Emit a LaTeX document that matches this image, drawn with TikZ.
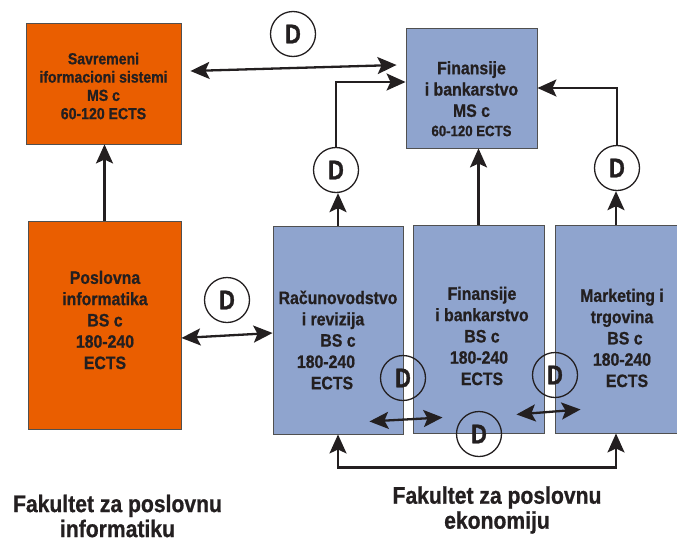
\documentclass[tikz,border=0pt]{standalone}
\usepackage{fontspec}
\setmainfont{Liberation Sans}
\newfontfamily\hv{Liberation Sans Bold}[FakeStretch=0.88,FakeBold=0.8]
\newfontfamily\hvd{Liberation Sans Bold}[FakeStretch=0.8,FakeBold=1.2]
\usetikzlibrary{arrows.meta,calc}
\definecolor{orangebox}{RGB}{234,94,0}
\definecolor{bluebox}{RGB}{143,164,206}
\definecolor{inkc}{RGB}{35,31,32}
\definecolor{edgec}{RGB}{80,80,80}
\tikzset{
  boxo/.style={draw=edgec,line width=0.9pt,fill=orangebox,inner sep=0pt},
  boxb/.style={draw=edgec,line width=0.9pt,fill=bluebox,inner sep=0pt},
  lbl/.style={text=inkc,align=center,inner sep=0pt,font=\hv\fontsize{18}{21.3}\selectfont},
  lbls/.style={text=inkc,align=center,inner sep=0pt,font=\hv\fontsize{16}{18.3}\selectfont},
  dcirc/.style={circle,draw=inkc,line width=1.3pt,minimum size=45pt,inner sep=0pt,text=inkc,font=\hvd\fontsize{27}{27}\selectfont},
  tip/.style={},
  conn/.style={draw=inkc,line width=2.3pt,-{Stealth[length=19pt,width=17pt,inset=4pt]}},
  conn2/.style={draw=inkc,line width=2.3pt,{Stealth[length=19pt,width=17pt,inset=4pt]}-{Stealth[length=19pt,width=17pt,inset=4pt]}},
  foot/.style={text=inkc,align=center,inner sep=0pt,font=\hv\fontsize{24}{25}\selectfont}
}
\begin{document}
\begin{tikzpicture}[x=1pt,y=-1pt]
\useasboundingbox (0,0) rectangle (677,541);
% boxes
\node[boxo,minimum width=155pt,minimum height=121pt] (A) at (103.5,83.5) {};
\node[boxb,minimum width=131pt,minimum height=120pt] (B) at (471.5,88) {};
\node[boxo,minimum width=153pt,minimum height=208pt] (C) at (104.5,325) {};
\node[boxb,minimum width=130pt,minimum height=208pt] (D) at (338,330) {};
\node[boxb,minimum width=131pt,minimum height=208pt] (E) at (478.5,329) {};
\node[boxb,minimum width=122pt,minimum height=208pt] (F) at (616,329) {};
% texts
\node[lbls] (At) at (103.5,86) {Savremeni\\iformacioni sistemi\\MS c\\60-120 ECTS};
\node[lbl,anchor=north] (Bt) at (471.5,61) {Finansije\\i bankarstvo\\MS c\\[-2pt]{\fontsize{15}{15}\selectfont 60-120 ECTS}};
\node[lbl] (Ct) at (105,320) {Poslovna\\informatika\\BS c\\180-240\\ECTS};
\node[lbl] (Dt) at (338,340) {Računovodstvo\\\hspace*{-10pt}i revizija\\BS c\\\hspace*{-24pt}180-240\\\hspace*{-12pt}ECTS};
\node[lbl] (Et) at (482,336) {Finansije\\i bankarstvo\\BS c\\\hspace*{-6pt}180-240\\ECTS};
\node[lbl] (Ft) at (622,338) {Marketing i\\trgovina\\\hspace*{6pt}BS c\\180-240\\\hspace*{10pt}ECTS};
\node[foot] (G1) at (117.5,516) {Fakultet za poslovnu\\informatiku};
\node[foot] (G2) at (497,510) {Fakultet za poslovnu\\ekonomiju};
% D circles
\node[dcirc] (d1) at (293,34) {D};
\node[dcirc] (d2) at (336,170) {D};
\node[dcirc] (d3) at (617,168) {D};
\node[dcirc] (d4) at (227,300) {D};
\node[dcirc] (d5) at (403,378) {D};
\node[dcirc] (d6) at (555,375) {D};
\node[dcirc] (d7) at (479,434) {D};
% connectors
\draw[conn2] ([xshift=9pt,yshift=12.5pt]A.east) -- ([xshift=-9pt,yshift=23pt]B.west);
\draw[conn] (C.north) -- (C.north |- A.south);
\draw[conn] (D.north) -- (D.north |- d2.south);
\draw[conn] (d2.north) |- ([yshift=6pt]B.west);
\draw[conn] (E.north) -- (E.north |- B.south);
\draw[conn] (F.north) -- (F.north |- d3.south);
\draw[conn] (d3.north) |- (B.east);
\draw[conn2] ([yshift=-13pt]C.east) -- ([yshift=-3pt]D.west);
\draw[conn2] ([xshift=-34pt,yshift=13pt]D.south east) -- ([xshift=30pt,yshift=16pt]E.south west);
\draw[conn2] ([xshift=-28pt,yshift=19pt]E.south east) -- ([xshift=26pt,yshift=24pt]F.south west);
\draw[conn2] (D.south) -- ++(0,33) -| (F.south);
\end{tikzpicture}
\end{document}
